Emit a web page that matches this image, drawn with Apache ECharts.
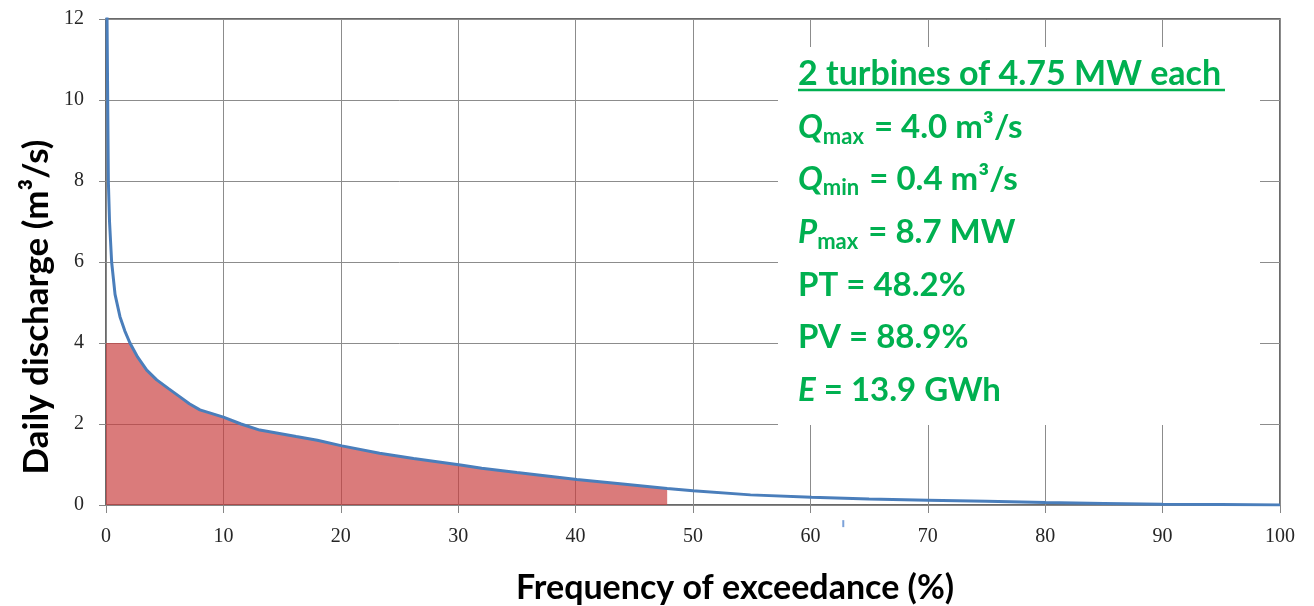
<!DOCTYPE html>
<html>
<head>
<meta charset="utf-8">
<script src="https://cdn.jsdelivr.net/npm/echarts@6/dist/echarts.min.js"></script>
<style>
  html, body { margin: 0; padding: 0; background: #ffffff; }
  #chart { width: 1314px; height: 606px; }
</style>
</head>
<body>
<div id="chart"></div>
<script>
// ---- data ----
const exceedance = [0.08, 0.2, 0.3, 0.48, 0.77, 1.19, 1.6, 2.04, 2.7, 3.47, 4.32, 5.3, 6.3, 7.1, 8.0, 10.0, 11.5, 13.1, 16.2, 18.0, 20.1, 23.3, 26.2, 30.2, 32.0, 35.0, 40.1, 44.0, 47.8, 50.0, 54.9, 60.1, 65.0, 70.0, 75.0, 80.0, 85.0, 90.0, 95.0, 100.0];
const discharge  = [12.3, 8.0, 7.0, 6.0, 5.2, 4.65, 4.3, 4.0, 3.65, 3.33, 3.09, 2.88, 2.67, 2.5, 2.35, 2.17, 2.0, 1.85, 1.69, 1.6, 1.46, 1.28, 1.15, 0.99, 0.91, 0.8, 0.63, 0.52, 0.41, 0.35, 0.25, 0.19, 0.15, 0.12, 0.09, 0.06, 0.04, 0.02, 0.01, 0.0];
const qMax = 4.0;          // turbine capacity (m3/s)
const usedUntil = 47.8;    // end of the shaded (used) region, %
const xTicks = [0, 10, 20, 30, 40, 50, 60, 70, 80, 90, 100];
const yTicks = [0, 2, 4, 6, 8, 10, 12];
const strayMark = [[62.8, -0.46]];
const xTitle = 'Frequency of exceedance (%)';
const yTitle = 'Daily discharge (m³/s)';
const infoTitle = '2 turbines of 4.75 MW each';
const infoLines = [
  '{i|Q}{s|max}{n| = 4.0 m³/s}',
  '{i|Q}{s|min}{n| = 0.4 m³/s}',
  '{i|P}{s|max}{n| = 8.7 MW}',
  '{n|PT = 48.2%}',
  '{n|PV = 88.9%}',
  '{i|E}{n| = 13.9 GWh}'
];

// ---- build series data ----
const curve = exceedance.map((x, i) => [x, discharge[i]]);
const used = [[0, qMax]].concat(
  exceedance.map((x, i) => [x, Math.min(discharge[i], qMax)]).filter(p => p[0] <= usedUntil)
);

const green = '#00B050';
const richStyles = {
  n: { fontFamily: 'Lato', fontWeight: 'bold', fontSize: 33, fill: green, lineHeight: 40, verticalAlign: 'middle' },
  i: { fontFamily: 'Lato', fontWeight: 'bold', fontStyle: 'italic', fontSize: 33, fill: green, lineHeight: 40, verticalAlign: 'middle' },
  s: { fontFamily: 'Lato', fontWeight: 'bold', fontSize: 22, fill: green, lineHeight: 22, verticalAlign: 'bottom', padding: [0, 2, 0, 0] }
};
const baselines = [138.5, 190, 243.5, 296.5, 348.5, 401.5];
const graphics = [
  { type: 'rect', z: 50, shape: { x: 778, y: 47, width: 482, height: 378 }, style: { fill: '#ffffff' } },
  { type: 'text', z: 51, x: 798, y: 74, style: { text: infoTitle, font: 'bold 34px Lato', fill: green, verticalAlign: 'middle' } },
  { type: 'line', z: 51, shape: { x1: 798, y1: 90, x2: 1225, y2: 90 }, style: { stroke: green, lineWidth: 2.5 } },
  { type: 'text', z: 51, x: 735, y: 588, style: { text: xTitle, font: 'bold 34px Lato', fill: '#000000', align: 'center', verticalAlign: 'middle' } },
  { type: 'text', z: 51, x: 37, y: 307, rotation: Math.PI / 2, style: { text: yTitle, font: 'bold 35px Lato', fill: '#000000', align: 'center', verticalAlign: 'middle' } }
];
infoLines.forEach((t, k) => {
  graphics.push({ type: 'text', z: 51, x: 798, y: baselines[k] - 11, style: { text: t, rich: richStyles, verticalAlign: 'middle' } });
});

const chart = echarts.init(document.getElementById('chart'), null, { renderer: 'canvas' });
chart.setOption({
  animation: false,
  backgroundColor: '#ffffff',
  grid: { left: 106, right: 34, top: 19, bottom: 101, show: true, borderColor: '#3a3a3a', borderWidth: 1.5, containLabel: false, outerBoundsMode: 'none' },
  xAxis: {
    type: 'value', min: 0, max: 100, interval: 10,
    axisLine: { show: true, onZero: false, lineStyle: { color: '#868686', width: 1 } },
    axisTick: { show: true, length: 8, lineStyle: { color: '#868686' } },
    axisLabel: { margin: 22, fontFamily: 'Liberation Serif', fontSize: 20, color: '#262626',
      formatter: v => xTicks.includes(v) ? String(v) : '' },
    splitLine: { show: true, lineStyle: { color: '#8c8c8c', width: 1 } }
  },
  yAxis: {
    type: 'value', min: 0, max: 12, interval: 2,
    axisLine: { show: true, lineStyle: { color: '#868686', width: 1 } },
    axisTick: { show: true, length: 7, lineStyle: { color: '#868686' } },
    axisLabel: { margin: 22, fontFamily: 'Liberation Serif', fontSize: 20, color: '#262626',
      formatter: v => yTicks.includes(v) ? String(v) : '' },
    splitLine: { show: true, lineStyle: { color: '#8c8c8c', width: 1 } }
  },
  series: [
    {
      type: 'line', data: used, symbol: 'none', silent: true, z: 2,
      lineStyle: { width: 0 },
      areaStyle: { color: '#c83c3c', opacity: 0.68, origin: 'start' }
    },
    {
      type: 'line', data: curve, symbol: 'none', silent: true, z: 3,
      lineStyle: { color: '#4a7ebb', width: 3 }
    },
    {
      type: 'scatter', data: strayMark, symbol: 'rect', symbolSize: [2, 7], clip: false, silent: true, z: 3,
      itemStyle: { color: '#5b8bd0' }
    }
  ],
  graphic: graphics
});
</script>
</body>
</html>
